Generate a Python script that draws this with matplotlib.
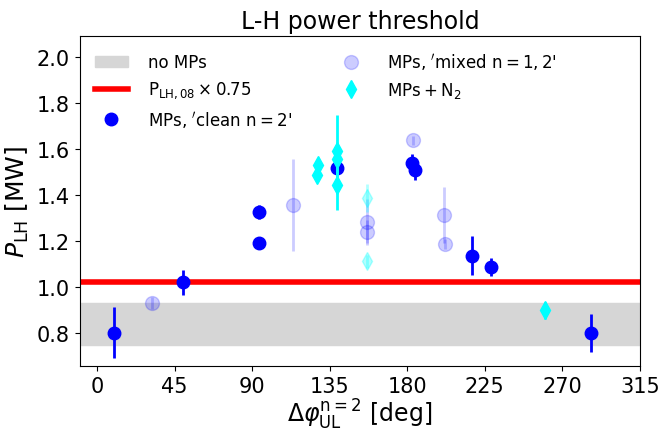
import numpy as np
from matplotlib import pyplot as plt
from matplotlib.lines import Line2D
from matplotlib.patches import Patch

# clean n=2 MPs
clean_phi = [10, 50, 94, 94, 139, 183, 184.5, 217.5, 228.5, 286.5]
clean_p = [0.80, 1.02, 1.326, 1.19, 1.515, 1.537, 1.506, 1.135, 1.086, 0.80]
clean_err = [0.11, 0.055, 0.03, 0.025, 0.025, 0.04, 0.04, 0.085, 0.04, 0.083]

# mixed n=1,2 MPs
mixed_phi = [31.7, 113.5, 156.4, 156.4, 183.6, 201.2, 202]
mixed_p = [0.93, 1.357, 1.28, 1.24, 1.636, 1.312, 1.186]
mixed_err = [0.025, 0.2, 0.1, 0.05, 0.02, 0.12, 0.02]

# MPs + N2
n2_phi = [128.4, 127.4, 139, 139, 139, 260.2]
n2_p = [1.528, 1.487, 1.59, 1.557, 1.443, 0.897]
n2_err = [0.02, 0.02, 0.155, 0.03, 0.11, 0.035]
n2_faint_phi = [156.4, 156.4]
n2_faint_p = [1.386, 1.11]
n2_faint_err = [0.06, 0.03]

no_mp_band = (0.745, 0.928)
plh08_scaled = 1.022

fig = plt.figure(figsize=(6.59, 4.35), dpi=100)
ax = fig.add_axes([0.121, 0.156, 0.850, 0.759])

ax.axhspan(no_mp_band[0], no_mp_band[1], color='#d6d6d6', zorder=0)
ax.axhline(plh08_scaled, color='red', lw=4, zorder=1)

ax.errorbar(mixed_phi, mixed_p, yerr=mixed_err, fmt='o', color='blue', alpha=0.2,
            ms=10, elinewidth=2, capsize=0, zorder=2)
ax.errorbar(n2_faint_phi, n2_faint_p, yerr=n2_faint_err, fmt='d', color='cyan', alpha=0.3,
            ms=9, elinewidth=2, capsize=0, zorder=2)
ax.errorbar(clean_phi, clean_p, yerr=clean_err, fmt='o', color='blue',
            ms=9, elinewidth=2, capsize=0, zorder=3)
ax.errorbar(n2_phi, n2_p, yerr=n2_err, fmt='d', color='cyan',
            ms=9, elinewidth=2, capsize=0, zorder=4)

ax.set_xlim(-10, 315)
ax.set_ylim(0.655, 2.09)
ax.set_xticks(np.arange(0, 316, 45))
ax.set_yticks(np.arange(0.8, 2.01, 0.2))
ax.tick_params(labelsize=15)
ax.set_title('L-H power threshold', fontsize=17)
ax.set_ylabel(r'$P_{\rm LH}$ [MW]', fontsize=18)
ax.set_xlabel(r'$\Delta\varphi_{\rm UL}^{\rm n=2}$ [deg]', fontsize=17, labelpad=1)

handles = [
    Patch(color='#d6d6d6'),
    Line2D([], [], color='red', lw=4),
    Line2D([], [], ls='', marker='o', color='blue', ms=9),
    Line2D([], [], ls='', marker='o', color='blue', alpha=0.2, ms=10),
    Line2D([], [], ls='', marker='d', color='cyan', ms=9),
]
labels = ['no MPs', r'$\mathrm{P_{LH,08}\times0.75}$', r"MPs, $'\mathrm{clean\ n=2}$'",
          r"MPs, $'\mathrm{mixed\ n=1,2}$'", r'$\mathrm{MPs+N_2}$']
ax.legend(handles, labels, loc='upper left', ncol=2, fontsize=12, frameon=False,
          columnspacing=2.5, handletextpad=1.2)

fig.savefig('out.png', dpi=100)
